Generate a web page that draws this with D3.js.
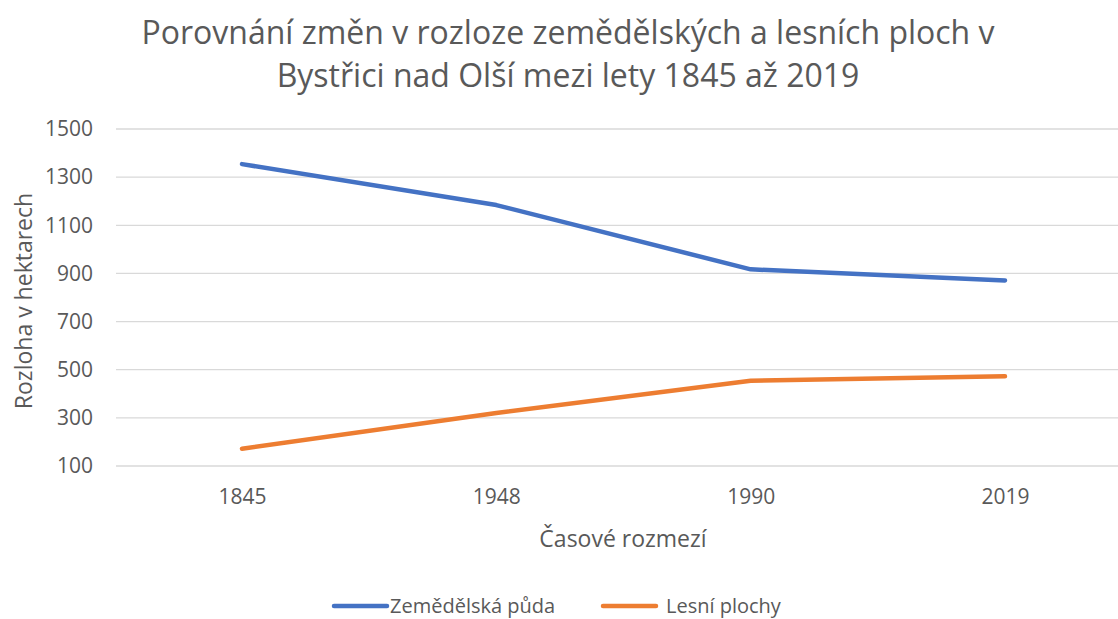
<!DOCTYPE html>
<html>
<head>
<meta charset="utf-8">
<script src="https://cdn.jsdelivr.net/npm/d3@7"></script>
<style>
  body { margin: 0; background: #fff; }
  svg { display: block; font-family: "Open Sans", "Noto Sans", sans-serif; }
</style>
</head>
<body>
<script>
// data
var years = ["1845", "1948", "1990", "2019"];
var zemedelska = [1354, 1184, 917, 871];
var lesni = [172, 320, 454, 473];
var yTicks = [100, 300, 500, 700, 900, 1100, 1300, 1500];
var seriesNames = ["Zemědělská půda", "Lesní plochy"];
var seriesColors = ["#4472c4", "#ed7d31"];

var width = 1118, height = 619;
var textColor = "#595959";

var svg = d3.select("body").append("svg")
    .attr("width", width)
    .attr("height", height);

// title
var title = svg.append("text")
    .attr("text-anchor", "middle")
    .attr("fill", textColor)
    .style("font-size", "32px");
title.append("tspan").attr("x", 568).attr("y", 44)
    .text("Porovnání změn v rozloze zemědělských a lesních ploch v");
title.append("tspan").attr("x", 568).attr("y", 87)
    .text("Bystřici nad Olší mezi lety 1845 až 2019");

var x = d3.scalePoint()
    .domain(years)
    .range([242, 1005]);

var y = d3.scaleLinear()
    .domain([100, 1500])
    .range([466, 129]);

// gridlines
svg.append("g")
    .selectAll("line")
    .data(yTicks)
    .enter()
    .append("line")
    .attr("x1", 116)
    .attr("x2", width)
    .attr("y1", function (d) { return y(d); })
    .attr("y2", function (d) { return y(d); })
    .attr("stroke", "#d9d9d9")
    .attr("stroke-width", 1.3);

// y axis labels
var yAxis = d3.axisLeft(y).tickValues(yTicks).tickFormat(d3.format("d")).tickSize(0).tickPadding(0);
var gy = svg.append("g").attr("transform", "translate(93,0)").call(yAxis);
gy.select(".domain").remove();
gy.selectAll("text")
    .attr("fill", textColor)
    .style("font-size", "21px")
    .style("font-family", "Open Sans, Noto Sans, sans-serif");

// x axis labels
var xAxis = d3.axisBottom(x).tickSize(0).tickPadding(0);
var gx = svg.append("g").attr("transform", "translate(0,489)").call(xAxis);
gx.select(".domain").remove();
gx.selectAll("text")
    .attr("fill", textColor)
    .style("font-size", "21px")
    .style("font-family", "Open Sans, Noto Sans, sans-serif");

// axis titles
svg.append("text")
    .attr("transform", "translate(32,301) rotate(-90)")
    .attr("text-anchor", "middle")
    .attr("fill", textColor)
    .style("font-size", "23px")
    .text("Rozloha v hektarech");

svg.append("text")
    .attr("x", 623)
    .attr("y", 547)
    .attr("text-anchor", "middle")
    .attr("fill", textColor)
    .style("font-size", "23px")
    .text("Časové rozmezí");

// lines
var line = d3.line()
    .x(function (d, i) { return x(years[i]); })
    .y(function (d) { return y(d); });

[zemedelska, lesni].forEach(function (vals, i) {
    svg.append("path")
        .datum(vals)
        .attr("d", line)
        .attr("fill", "none")
        .attr("stroke", seriesColors[i])
        .attr("stroke-width", 4.5)
        .attr("stroke-linecap", "round")
        .attr("stroke-linejoin", "round");
});

// legend
var legendX = [334, 603];
var textX = [390, 666];
var legend = svg.append("g");
seriesNames.forEach(function (name, i) {
    legend.append("line")
        .attr("x1", legendX[i])
        .attr("x2", legendX[i] + 53)
        .attr("y1", 606)
        .attr("y2", 606)
        .attr("stroke", seriesColors[i])
        .attr("stroke-width", 4.5)
        .attr("stroke-linecap", "round");
    legend.append("text")
        .attr("x", textX[i])
        .attr("y", 613)
        .attr("fill", textColor)
        .style("font-size", "20px")
        .text(name);
});
</script>
</body>
</html>
